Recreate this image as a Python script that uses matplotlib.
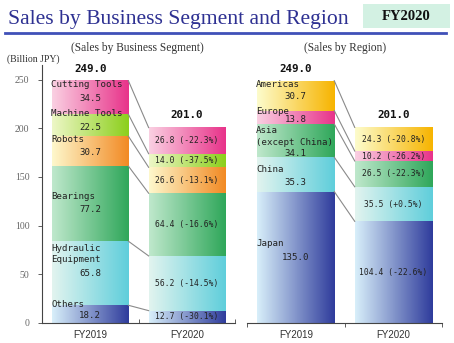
import numpy as np
import matplotlib.pyplot as plt
from matplotlib.colors import LinearSegmentedColormap
from matplotlib.lines import Line2D
from matplotlib.patches import Rectangle

years = ["FY2019", "FY2020"]

segments = ["Others", "Hydraulic\nEquipment", "Bearings", "Robots", "Machine Tools", "Cutting Tools"]
segment_2019 = [18.2, 65.8, 77.2, 30.7, 22.5, 34.5]
segment_2020 = [12.7, 56.2, 64.4, 26.6, 14.0, 26.8]
segment_change = ["-30.1%", "-14.5%", "-16.6%", "-13.1%", "-37.5%", "-22.3%"]

regions = ["Japan", "China", "Asia\n(except China)", "Europe", "Americas"]
region_2019 = [135.0, 35.3, 34.1, 13.8, 30.7]
region_2020 = [104.4, 35.5, 26.5, 10.2, 24.3]
region_change = ["-22.6%", "+0.5%", "-22.3%", "-26.2%", "-20.8%"]

total_2019 = 249.0
total_2020 = 201.0

# (light, dark) ends of the horizontal gradient
PINK = ("#fad0e2", "#e8338a")
LIME = ("#edf7c6", "#8ccf1c")
ORANGE = ("#fef8cc", "#f28a24")
GREEN = ("#bfe8cc", "#2fa75a")
CYAN = ("#e2f4ef", "#5fcedb")
NAVY = ("#d8effa", "#2f3c9c")
GOLD = ("#fdfccc", "#f7b400")

segment_colors = [NAVY, CYAN, GREEN, ORANGE, LIME, PINK]
region_colors = [NAVY, CYAN, GREEN, PINK, GOLD]

# label placement relative to the top of each FY2019 block (data units)
segment_name_dy = [1.3, -13.4, -31.6, -3.7, 0.5, -4.0]
segment_value_dy = [-11.0, -33.6, -45.0, -17.0, -14.0, -18.5]
region_name_dy = [-53.0, -13.0, -12.8, -0.8, -4.0]
region_value_dy = [-67.8, -25.5, -30.5, -9.4, -16.0]

W, H = 454, 343
BAR_W = 0.79
MONO = "DejaVu Sans Mono"


def grad_bar(ax, x, bottom, height, colors):
  cmap = LinearSegmentedColormap.from_list("g", list(colors))
  ax.imshow(np.linspace(0, 1, 128)[None, :], cmap=cmap, aspect="auto",
            interpolation="bilinear", zorder=2,
            extent=(x - BAR_W / 2, x + BAR_W / 2, bottom, bottom + height))


def draw_panel(ax, names, v2019, v2020, change, colors, name_dy, value_dy):
  b19 = np.concatenate([[0], np.cumsum(v2019)])
  b20 = np.concatenate([[0], np.cumsum(v2020)])
  for i in range(len(names)):
    grad_bar(ax, 0, b19[i], v2019[i], colors[i])
    grad_bar(ax, 1, b20[i], v2020[i], colors[i])
    # connector from top of FY2019 block to top of FY2020 block
    ax.plot([BAR_W / 2, 1 - BAR_W / 2], [b19[i + 1], b20[i + 1]],
            color="#8a8a8a", lw=0.8, zorder=3)
    top = b19[i + 1]
    ax.text(-BAR_W / 2 - 0.01, top + name_dy[i], names[i], ha="left", va="center",
            fontsize=6.6, family=MONO, color="#222222", linespacing=1.35, zorder=4)
    ax.text(0, top + value_dy[i], "%.1f" % v2019[i], ha="center", va="center",
            fontsize=6.6, family=MONO, color="#222222", zorder=4)
    ax.text(1, b20[i] + v2020[i] / 2, "%.1f (%s)" % (v2020[i], change[i]),
            ha="center", va="center", fontsize=5.8, family=MONO, color="#222222", zorder=4)
  ax.text(0, b19[-1] + 12.5, "%.1f" % total_2019, ha="center", va="center",
          fontsize=7.8, family=MONO, fontweight="bold", color="#111111")
  ax.text(1, b20[-1] + 12.5, "%.1f" % total_2020, ha="center", va="center",
          fontsize=7.8, family=MONO, fontweight="bold", color="#111111")
  ax.set_xlim(-0.5, 1.5)
  ax.set_ylim(0, 265)
  ax.spines["top"].set_visible(False)
  ax.spines["right"].set_visible(False)
  ax.spines["bottom"].set_color("#444444")
  ax.spines["bottom"].set_linewidth(0.8)


fig = plt.figure(figsize=(W / 100, H / 100), dpi=100)

bottom = (H - 323) / H
height = (323 - 65) / H
ax1 = fig.add_axes([42 / W, bottom, 193 / W, height])
ax2 = fig.add_axes([247 / W, bottom, 195 / W, height])

draw_panel(ax1, segments, segment_2019, segment_2020, segment_change,
           segment_colors, segment_name_dy, segment_value_dy)
draw_panel(ax2, regions, region_2019, region_2020, region_change,
           region_colors, region_name_dy, region_value_dy)

# left panel: y axis with values
ax1.set_yticks(np.arange(0, 251, 50))
ax1.tick_params(axis="y", length=3, width=0.6, color="#444444", labelsize=7,
                labelcolor="#666666", pad=6)
for lab in ax1.get_yticklabels():
  lab.set_family("Liberation Serif")
ax1.spines["left"].set_color("#444444")
ax1.spines["left"].set_linewidth(0.8)
ax1.set_xticks([0.5, 1.5])
ax1.set_xticklabels(["", ""])
ax1.tick_params(axis="x", direction="in", length=3, width=0.6, color="#444444")

# right panel: no y axis
ax2.spines["left"].set_visible(False)
ax2.set_yticks([])
ax2.set_xticks([-0.5, 0.5, 1.5])
ax2.set_xticklabels(["", "", ""])
ax2.tick_params(axis="x", direction="out", length=3, width=0.6, color="#444444")

for ax in (ax1, ax2):
  for i, yr in enumerate(years):
    ax.text(i, -12, yr, ha="center", va="center", fontsize=7,
            family="Liberation Sans", color="#333333", clip_on=False)

# header
fig.text(8 / W, 1 - 19.5 / H, "Sales by Business Segment and Region", ha="left", va="center",
         fontsize=15.6, family="Liberation Serif", color="#2e3192")
fig.add_artist(Line2D([5 / W, 446 / W], [1 - 33 / H] * 2, lw=2, color="#4050b8"))
fig.add_artist(Rectangle((363 / W, 1 - 28 / H), 87 / W, 24 / H, transform=fig.transFigure,
                         facecolor="#d3f1e3", edgecolor="none"))
fig.text(406 / W, 1 - 16.5 / H, "FY2020", ha="center", va="center", fontsize=10.5,
         family="Liberation Serif", fontweight="bold", color="#111111")

fig.text(137 / W, 1 - 47.5 / H, "(Sales by Business Segment)", ha="center", va="center",
         fontsize=8.3, family="Liberation Serif", color="#333333")
fig.text(345 / W, 1 - 47.5 / H, "(Sales by Region)", ha="center", va="center",
         fontsize=8.3, family="Liberation Serif", color="#333333")
fig.text(7 / W, 1 - 59 / H, "(Billion JPY)", ha="left", va="center",
         fontsize=7, family="Liberation Serif", color="#333333")

fig.savefig("out.png", dpi=100)
